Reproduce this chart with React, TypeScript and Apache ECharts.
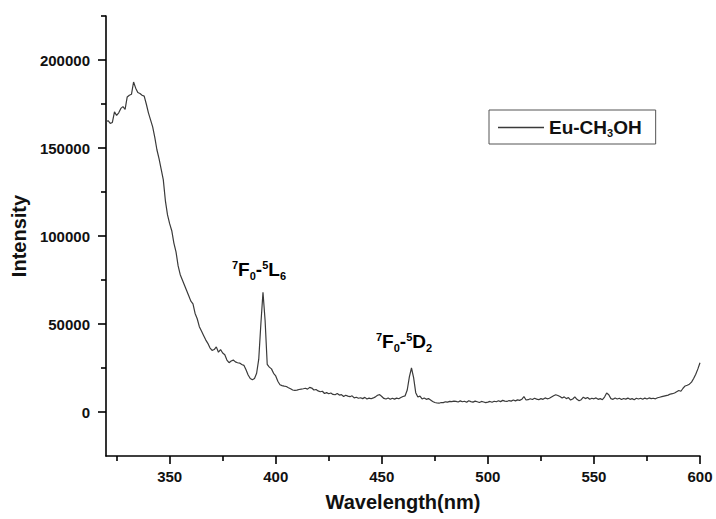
import React, { useEffect, useRef } from "react";
import * as echarts from "echarts";

const intensity = [
  165000, 165500, 164000, 164500, 170500, 168500, 170000, 172500, 173500, 172000,
  179000, 180000, 180500, 187500, 184000, 181500, 181000, 180000, 179500, 175000,
  170000, 166000, 162000, 156000, 149000, 144000, 138000, 132000, 120000, 112000,
  107000, 103000, 96000, 91000, 83000, 78000, 75000, 72000, 69000, 66000,
  63000, 61500, 56000, 53000, 48500, 46000, 43500, 41000, 39000, 36500,
  35000, 35500, 37000, 34000, 35500, 33500, 32500, 29500, 28000, 29000,
  29500, 28500, 28000, 27800, 27000, 26500, 24000, 21000, 19000, 18300,
  19000, 22000, 30000, 50000, 68000, 52000, 27000, 25500, 24500, 22000,
  20500, 17500, 15500, 15000, 14700, 14500, 13800, 13200, 12500, 12300,
  12400, 12800, 13000, 13200, 13500, 13000, 14000, 13600, 12500, 12800,
  12000, 11500, 11800, 10500, 11000, 10400, 10800, 10000, 9800, 10500,
  9600, 9900, 8800, 9500, 9000, 8700, 9200, 8000, 8400, 7800,
  8100, 7600, 8300, 7400, 7900, 7500, 8000, 8600, 9500, 9900,
  8800, 7700, 7400, 8000, 7200, 7800, 7300, 7900, 7500, 8200,
  8800, 9200, 12500, 20000, 25000, 19500, 11000, 8500, 9000, 7400,
  8000, 7200, 7600, 6800, 6000, 5400, 5100, 5000, 5400, 5300,
  5800, 5600, 6000, 5900, 6200, 6000, 5700, 6300, 5800, 6100,
  5500, 6400, 5900, 5600, 6200, 5800, 5400, 6000, 5700, 5300,
  5600, 6000, 5500, 6100, 5800, 6400, 5900, 6600, 6200, 6000,
  6500, 6200, 6800, 6300, 6900, 6600, 7200, 8800, 6800, 7000,
  7500, 7100, 7800, 7300, 7000, 7600, 7200, 8000, 7500, 7800,
  8500, 9200, 9800, 9400, 8800, 8000, 8600, 7600, 8200, 6800,
  7400, 8600, 7200, 6400, 7000, 8400, 7600, 8200, 7200, 7800,
  7500, 8000, 7200, 7600, 7000, 8500, 10800, 9800, 7600, 7200,
  8000, 7400, 7800, 7100, 7700, 7300, 7900, 7200, 7600, 7000,
  7800, 7400, 7800, 7200, 7900, 7400, 8000, 7600, 7800, 7500,
  8100, 8400, 8700, 9000, 9300, 9600, 10200, 10400, 10800, 11500,
  12200, 11800, 13500, 14800, 15200, 15800, 17000, 19000, 21500, 24500,
  28000,
];
const wavelengthStart = 320;
const wavelength = intensity.map((_, i) => wavelengthStart + i);

const xLabels = [350, 400, 450, 500, 550, 600];
const xMinorTicks = [325, 375, 425, 475, 525, 575];
const yLabels = [0, 50000, 100000, 150000, 200000];
const yMinorTicks = [25000, 75000, 125000, 175000, 225000];

const seriesName = "Eu-CH3OH";

const FONT = "Liberation Sans, Arial, Helvetica, sans-serif";
const INK = "#111";

const richLabel = {
  b: { fontSize: 19, fontWeight: "bold", fontFamily: FONT, color: INK, lineHeight: 20 },
  sup: { fontSize: 11, fontWeight: "bold", fontFamily: FONT, color: INK, lineHeight: 11, padding: [0, 0, 10, 0] },
  sub: { fontSize: 11, fontWeight: "bold", fontFamily: FONT, color: INK, lineHeight: 11, padding: [12, 0, 0, 0] },
};

const ls = () => ({ color: "#000", width: 1.6 });

export default function App() {
  const ref = useRef<HTMLDivElement>(null);
  useEffect(() => {
    document.body.style.margin = "0";
    const chart = echarts.init(ref.current!, undefined, { renderer: "svg" });
    chart.setOption({
      animation: false,
      backgroundColor: "#fff",
      grid: { left: 106, right: 16, top: 16, bottom: 63 },
      legend: {
        left: 489,
        top: 110,
        data: [{ name: seriesName, icon: "rect" }],
        itemWidth: 46,
        itemHeight: 1.4,
        borderColor: "#555",
        borderWidth: 1,
        borderRadius: 0,
        padding: [6, 14, 5, 9],
        formatter: () => "{a|Eu-CH}{s|3}{a|OH}",
        textStyle: {
          rich: {
            a: { fontSize: 19, fontWeight: "bold", fontFamily: FONT, color: INK, lineHeight: 20 },
            s: { fontSize: 11, fontWeight: "bold", fontFamily: FONT, color: INK, lineHeight: 11, padding: [12, 0, 0, 0] },
          },
        },
      },
      xAxis: [
        {
          type: "value",
          min: 320,
          max: 600,
          name: "Wavelength(nm)",
          nameLocation: "middle",
          nameGap: 36,
          nameTextStyle: { fontSize: 20, fontWeight: "bold", fontFamily: FONT, color: INK },
          axisLine: { show: true, onZero: false, lineStyle: ls() },
          axisTick: { show: true, length: 8, customValues: xLabels, lineStyle: ls() },
          axisLabel: { customValues: xLabels, margin: 13, fontSize: 15, fontWeight: "bold", fontFamily: FONT, color: INK },
          splitLine: { show: false },
        },
        {
          type: "value",
          min: 320,
          max: 600,
          position: "bottom",
          axisLine: { show: false, onZero: false },
          axisTick: { show: true, length: 5, customValues: xMinorTicks, lineStyle: ls() },
          axisLabel: { show: false },
          splitLine: { show: false },
        },
      ],
      yAxis: [
        {
          type: "value",
          min: -25000,
          max: 225000,
          name: "Intensity",
          nameLocation: "middle",
          nameGap: 75,
          nameTextStyle: { fontSize: 20, fontWeight: "bold", fontFamily: FONT, color: INK },
          axisLine: { show: true, onZero: false, lineStyle: ls() },
          axisTick: { show: true, length: 8, customValues: yLabels, lineStyle: ls() },
          axisLabel: {
            customValues: yLabels,
            margin: 16,
            fontSize: 15,
            fontWeight: "bold",
            fontFamily: FONT,
            color: INK,
            formatter: (v: number) => String(v),
          },
          splitLine: { show: false },
        },
        {
          type: "value",
          min: -25000,
          max: 225000,
          position: "left",
          axisLine: { show: false, onZero: false },
          axisTick: { show: true, length: 5, customValues: yMinorTicks, lineStyle: ls() },
          axisLabel: { show: false },
          splitLine: { show: false },
        },
      ],
      series: [
        {
          name: seriesName,
          type: "line",
          data: wavelength.map((w, i) => [w, intensity[i]]),
          symbol: "none",
          lineStyle: { color: "#3a3a3a", width: 1.2 },
          itemStyle: { color: "#3a3a3a" },
        },
      ],
      graphic: [
        {
          type: "text",
          left: 232,
          top: 258,
          style: { text: "{sup|7}{b|F}{sub|0}{b|-}{sup|5}{b|L}{sub|6}", rich: richLabel },
        },
        {
          type: "text",
          left: 376,
          top: 330,
          style: { text: "{sup|7}{b|F}{sub|0}{b|-}{sup|5}{b|D}{sub|2}", rich: richLabel },
        },
      ],
    });
    return () => chart.dispose();
  }, []);
  return <div ref={ref} style={{ width: 716, height: 519 }} />;
}
